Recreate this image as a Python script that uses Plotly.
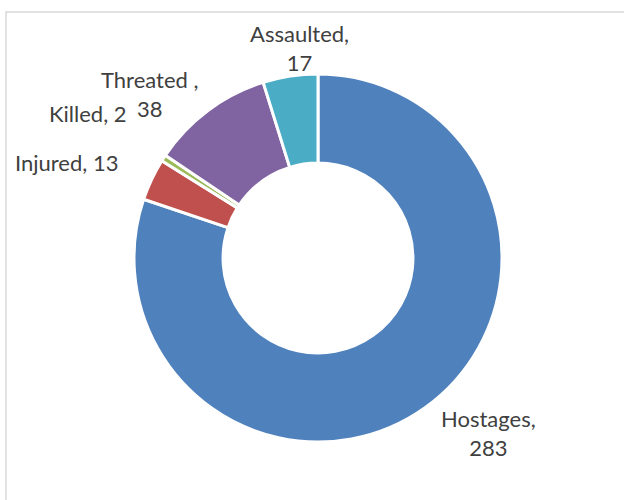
import plotly.graph_objects as go

categories = ["Hostages", "Injured", "Killed", "Threated ", "Assaulted"]
values = [283, 13, 2, 38, 17]
colors = ["#4F81BD", "#C0504D", "#9BBB59", "#8064A2", "#4BACC6"]
label_texts = ["Hostages,<br>283", "Injured, 13", "Killed, 2", "Threated ,<br>38", "Assaulted,<br>17"]
# label centres in pixels (x from left, y from top)
label_pos = [(488, 433), (66, 162), (88, 114), (149, 94), (299, 48)]

W, H = 624, 500
fig = go.Figure()
fig.add_trace(go.Pie(
    labels=categories,
    values=values,
    sort=False,
    direction="clockwise",
    rotation=0,
    hole=0.516,
    marker=dict(colors=colors, line=dict(color="white", width=3)),
    textinfo="none",
    hoverinfo="label+value",
    showlegend=False,
    domain=dict(x=[134 / W, 502 / W], y=[(242 - 184) / H, (242 + 184) / H]),
))

for txt, (px, py) in zip(label_texts, label_pos):
    fig.add_annotation(
        text=txt, x=px / W, y=1 - py / H, xref="paper", yref="paper",
        showarrow=False, xanchor="center", yanchor="middle", align="center",
        font=dict(family="Lato, sans-serif", size=22, color="#404040"),
    )

fig.add_shape(type="rect", xref="paper", yref="paper",
              x0=6 / W, x1=1.05, y0=-0.05, y1=1 - 12 / H,
              line=dict(color="#D9D9D9", width=1.5), fillcolor="rgba(0,0,0,0)")

fig.update_layout(
    width=W, height=H,
    margin=dict(l=0, r=0, t=0, b=0),
    paper_bgcolor="white", plot_bgcolor="white",
)
fig.write_html("out.html",
               config={"displayModeBar": False},
               post_script="document.body.style.margin='0';document.body.style.overflow='hidden';")
